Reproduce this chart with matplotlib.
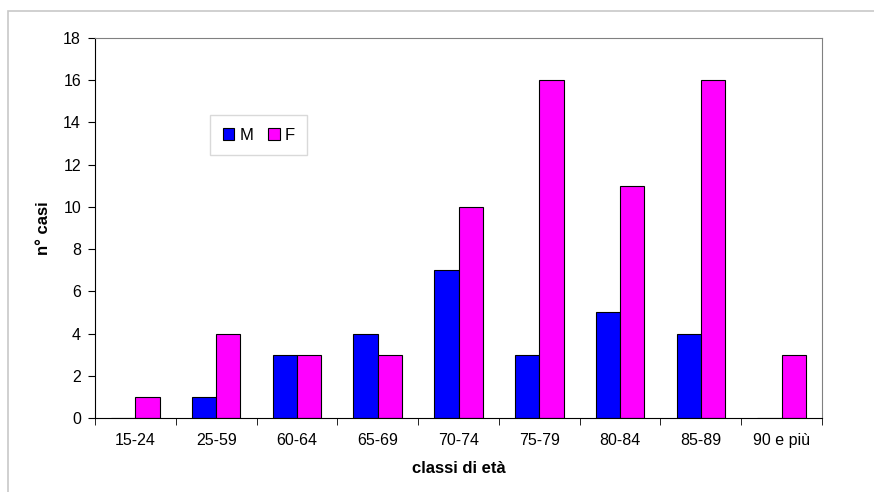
import numpy as np
import matplotlib.pyplot as plt
from matplotlib.patches import Rectangle

plt.rcParams['font.family'] = ['Liberation Sans', 'DejaVu Sans']

classi = ['15-24', '25-59', '60-64', '65-69', '70-74', '75-79', '80-84', '85-89', '90 e più']
maschi = [0, 1, 3, 4, 7, 3, 5, 4, 0]
femmine = [1, 4, 3, 3, 10, 16, 11, 16, 3]

fig = plt.figure(figsize=(8.74, 4.92), dpi=100)
# cornice esterna grigia
fig.patches.append(Rectangle((8 / 874, -0.1), 1.2, 1 - 11 / 492 + 0.1,
                             transform=fig.transFigure, fill=False,
                             edgecolor='#c8c8c8', linewidth=1.2))

ax = fig.add_axes([95 / 874, 1 - 418 / 492, 727 / 874, 380 / 492])
x = np.arange(len(classi))
w = 0.3
ax.bar(x - w / 2, maschi, w, color='#0000ff', edgecolor='black', linewidth=0.8, label='M')
ax.bar(x + w / 2, femmine, w, color='#ff00ff', edgecolor='black', linewidth=0.8, label='F')

ax.set_xlim(-0.5, len(classi) - 0.5)
ax.set_ylim(0, 18)
ax.set_yticks(range(0, 19, 2))
ax.set_xticks(x)
ax.set_xticklabels(classi, fontsize=11.5)
ax.tick_params(axis='x', length=0, pad=11)
ax.set_xticks(np.arange(-0.5, len(classi)), minor=True)
ax.tick_params(axis='x', which='minor', length=5, direction='out', color='black')
ax.tick_params(axis='y', length=5, direction='out', labelsize=11.5, pad=5)

for s in ['top', 'right']:
    ax.spines[s].set_color('#808080')
for s in ['left', 'bottom']:
    ax.spines[s].set_color('black')

ax.set_xlabel('classi di età', fontsize=12, fontweight='bold', labelpad=9)
ax.set_ylabel('n° casi', fontsize=12, fontweight='bold', labelpad=9)

leg = ax.legend(loc='upper left', bbox_to_anchor=(210 / 874, 1 - 115 / 492),
                bbox_transform=fig.transFigure, ncol=2, fontsize=12,
                frameon=True, fancybox=False, handlelength=0.7, handleheight=0.7,
                handletextpad=0.3, columnspacing=0.9, borderpad=0.75,
                borderaxespad=0)
leg.get_frame().set_edgecolor('#d0d0d0')
leg.get_frame().set_linewidth(1.0)

fig.savefig('out.png', dpi=100)
